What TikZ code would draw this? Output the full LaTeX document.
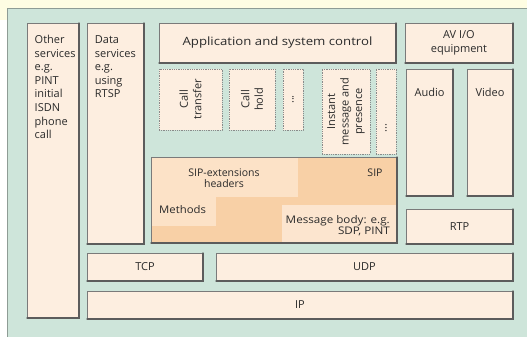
\documentclass[tikz,border=0pt]{standalone}
\usepackage{graphicx}
\usepackage{fontspec}
\setmainfont{Open Sans}
\definecolor{bgyellow}{HTML}{FEFDE3}
\definecolor{panel}{HTML}{CEE5DA}
\definecolor{panelline}{HTML}{8E9C95}
\definecolor{peach}{HTML}{FDEEE0}
\definecolor{boxline}{HTML}{7A7A7A}
\definecolor{boxshadow}{HTML}{5C5C5C}
\definecolor{dotline}{HTML}{8A8A8A}
\definecolor{sipdark}{HTML}{F8D0A6}
\definecolor{siplight}{HTML}{FCE2C7}
\definecolor{ink}{HTML}{2A2A2A}

% a layer box: style, name, left, top, right, bottom
\newcommand\layerbox[6][box]{%
  \node[#1, minimum width={#5-#3}, minimum height={#6-#4}] (#2)
    at ({(#3+#5)/2},{(#4+#6)/2}) {};}
% darker bottom and right edges of a solid box
\newcommand\boxshade[1]{%
  \draw[shadeline] (#1.south west) -- (#1.south east) -- (#1.north east);}

\begin{document}
\begin{tikzpicture}[x=1pt,y=-1pt,
  box/.style={draw=boxline, fill=peach, line width=0.8pt, inner sep=0pt, outer sep=0pt},
  dbox/.style={draw=dotline, fill=peach, line width=0.7pt,
    dash pattern=on 1pt off 0.8pt, inner sep=0pt, outer sep=0pt},
  sipbox/.style={draw=boxline, fill=sipdark, line width=0.8pt, inner sep=0pt, outer sep=0pt},
  shadeline/.style={draw=boxshadow, line width=1.1pt, line cap=round},
  txt/.style={font=\fontsize{11}{13.6}\selectfont, text=ink, inner sep=0pt},
  small/.style={font=\fontsize{10.5}{11.2}\selectfont, text=ink, inner sep=0pt}]

\useasboundingbox (0,0) rectangle (527,337);

% page background and the panel holding the stack
\fill[bgyellow] (0,0) rectangle (527,337);
\fill[white] (0,20) rectangle (7,337);
\fill[panel] (7,8) rectangle (527,337);
\draw[panelline, line width=0.8pt] (7,337) -- (7,8) -- (527,8);

% left column services
\layerbox{other}{27}{23}{79}{318}
\layerbox{data}{87}{23}{144}{244}

% top row
\layerbox{app}{159}{23}{396}{63}
\layerbox{avio}{405}{23}{513}{63}

% dotted application boxes
\layerbox[dbox]{xfer}{159}{69}{222}{130}
\layerbox[dbox]{hold}{229}{69}{275}{130}
\layerbox[dbox]{more1}{283}{69}{303}{130}
\layerbox[dbox]{im}{322}{69}{370}{154}
\layerbox[dbox]{more2}{376}{69}{396}{154}

% media
\layerbox{audio}{406}{69}{453}{196}
\layerbox{video}{467}{69}{513}{196}
\layerbox{rtp}{406}{209}{513}{244}

% SIP block with its lighter sub-areas
\layerbox[sipbox]{sip}{151}{157}{397}{243}
\fill[siplight] (151.4,157.4) rectangle (298,197);
\fill[siplight] (151.4,197) rectangle (216,226);
\fill[siplight!70!peach] (282,205) rectangle (396.6,242.6);
\draw[boxline, line width=0.8pt] (sip.north west) rectangle (sip.south east);

% transport and network
\layerbox{tcp}{87}{253}{203}{281}
\layerbox{udp}{216}{253}{513}{281}
\layerbox{ip}{87}{291}{513}{319}

\foreach \b in {other,data,app,avio,audio,video,rtp,sip,tcp,udp,ip}{\boxshade{\b}}

% labels
\node[txt, align=left, anchor=north west] (othertxt) at (34.5,35)
  {Other\\services\\e.g.\\PINT\\initial\\ISDN\\phone\\call};
\node[txt, align=left, anchor=north west] (datatxt) at (94.7,35.4)
  {Data\\services\\e.g.\\using\\RTSP};
\node[txt] (apptxt) at (app.center) {\scalebox{1.2}[1.04]{Application and system control}};
\node[txt, align=center] (aviotxt) at (avio.center) {AV I/O\\equipment};
\node[txt, rotate=90, align=center] (xfertxt) at (xfer.center) {Call\\transfer};
\node[txt, rotate=90, align=center] (holdtxt) at (hold.center) {Call\\hold};
\node[txt, rotate=90] (more1txt) at (more1.center) {...};
\node[txt, rotate=90, align=center] (imtxt) at (im.center) {Instant\\message and\\presence};
\node[txt, rotate=90] (more2txt) at (386,128) {...};
\node[txt] (audiotxt) at (429.5,92) {Audio};
\node[txt] (videotxt) at (490,92) {Video};
\node[txt] (rtptxt) at (rtp.center) {RTP};
\node[small, align=center] (exttxt) at (224,178.5) {SIP-extensions\\headers};
\node[small] (siptxt) at (375,173) {SIP};
\node[small, anchor=west] (methtxt) at (159,209.5) {\scalebox{1.08}[1]{Methods}};
\node[small, align=right, anchor=east] (bodytxt) at (390,226)
  {\scalebox{1.11}[1]{Message body: e.g.}\\\scalebox{1.11}[1]{SDP, PINT}};
\node[txt] (tcptxt) at (tcp.center) {TCP};
\node[txt] (udptxt) at (udp.center) {UDP};
\node[txt] (iptxt) at (ip.center) {IP};
\end{tikzpicture}
\end{document}
